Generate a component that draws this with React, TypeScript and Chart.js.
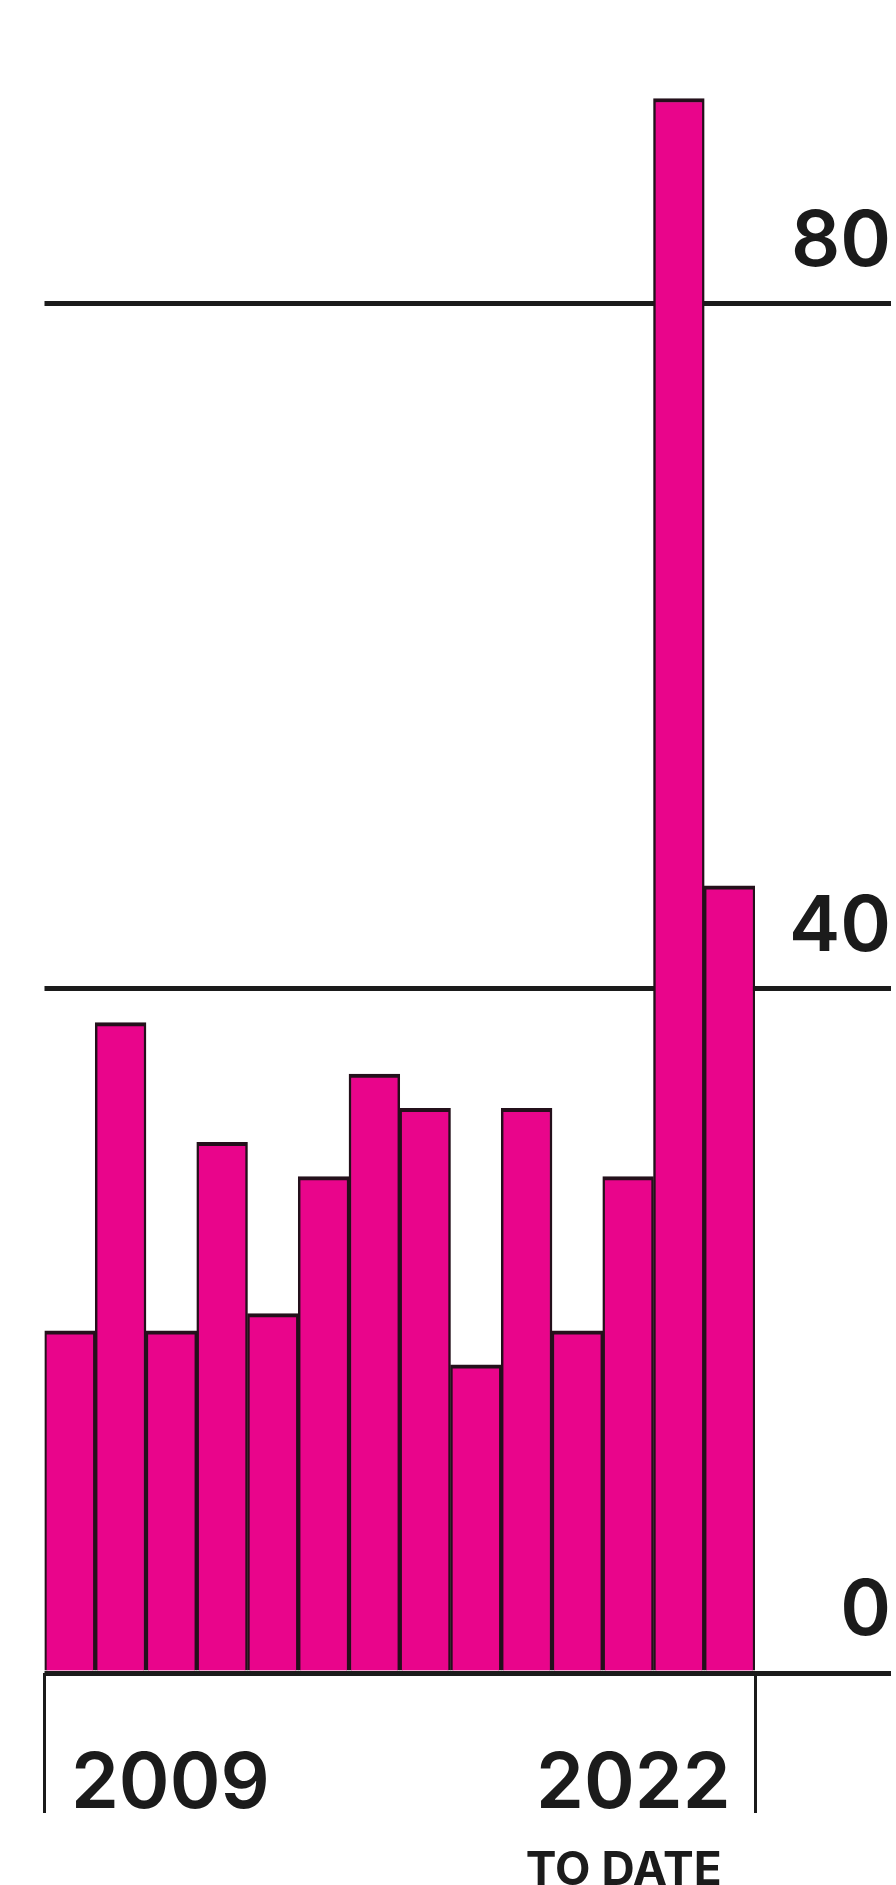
import React, { useEffect, useRef } from 'react';
import { Chart, registerables } from 'chart.js';

Chart.register(...registerables);

// ---- data ----
const years = ['2009', '2010', '2011', '2012', '2013', '2014', '2015', '2016', '2017', '2018', '2019', '2020', '2021', '2022'];
const counts = [20, 38, 20, 31, 21, 29, 35, 33, 18, 33, 20, 29, 92, 46];
const yTickValues = [0, 40, 80];
const yMax = 96;
const lastYearNote = 'TO DATE';

// ---- style ----
const INK = '#1b1b1b';
const MAGENTA = '#e9058b';
const BAR_EDGE = '#24101b';
const BIG_FONT = 77;
const BIG_WEIGHT = 600;

export default function App() {
  const ref = useRef<HTMLCanvasElement>(null);

  useEffect(() => {
    const canvas = ref.current;
    if (!canvas) return;
    const m = document.createElement('canvas').getContext('2d')!;
    m.font = `${BIG_WEIGHT} ${BIG_FONT}px Inter`;
    const widest = Math.max(...yTickValues.map((v) => m.measureText(String(v)).width));

    const chart = new Chart(canvas, {
      type: 'bar',
      data: {
        labels: years,
        datasets: [
          {
            data: counts,
            backgroundColor: MAGENTA,
            borderColor: BAR_EDGE,
            borderWidth: { top: 4, left: 2.5, right: 2.5, bottom: 0 },
            borderSkipped: 'start',
            categoryPercentage: 1,
            barPercentage: 1,
          },
        ],
      },
      options: {
        responsive: false,
        animation: false,
        devicePixelRatio: 1,
        layout: { padding: { left: 44.5, right: 5, top: 30, bottom: 0 } },
        plugins: { legend: { display: false }, tooltip: { enabled: false }, title: { display: false } },
        scales: {
          x: {
            weight: 0,
            afterFit: (axis: any) => {
              axis.height = 148;
            },
            grid: {
              drawOnChartArea: false,
              color: (ctx: any) => (ctx.type === 'scale' || ctx.index === 0 ? INK : 'rgba(0,0,0,0)'),
              lineWidth: 3,
              tickLength: 140,
            },
            border: { display: false },
            ticks: {
              autoSkip: false,
              maxRotation: 0,
              align: 'inner',
              callback: (_v: any, i: number) => (i === 0 || i === years.length - 1 ? years[i] : ''),
              font: { family: 'Inter', size: BIG_FONT, weight: BIG_WEIGHT },
              color: INK,
              padding: -74,
              labelOffset: 1,
            },
          },
          x2: {
            type: 'category',
            position: 'bottom',
            offset: true,
            weight: 1,
            afterFit: (axis: any) => {
              axis.height = 64;
            },
            grid: { display: false, drawTicks: false },
            border: { display: false },
            ticks: {
              autoSkip: false,
              maxRotation: 0,
              align: 'inner',
              callback: (_v: any, i: number) => (i === years.length - 1 ? lastYearNote : ''),
              font: { family: 'Inter', size: 46, weight: 'bold' },
              color: INK,
              padding: 23,
              labelOffset: -8,
            },
          },
          y: {
            position: 'right',
            min: 0,
            max: yMax,
            afterBuildTicks: (axis: any) => {
              axis.ticks = yTickValues.map((v) => ({ value: v }));
            },
            afterFit: (axis: any) => {
              axis.width = 136;
            },
            grid: { color: INK, lineWidth: 5, tickLength: 136 },
            border: { display: false },
            ticks: {
              font: { family: 'Inter', size: BIG_FONT, weight: BIG_WEIGHT },
              color: INK,
              crossAlign: 'far',
              padding: -(widest + 2),
              labelOffset: -61,
            },
          },
        },
      } as any,
    });
    return () => chart.destroy();
  }, []);

  return (
    <div style={{ position: 'absolute', left: 0, top: 0, width: 896, height: 1885, background: '#ffffff' }}>
      <canvas ref={ref} width={896} height={1885} style={{ display: 'block', width: 896, height: 1885 }} />
    </div>
  );
}
